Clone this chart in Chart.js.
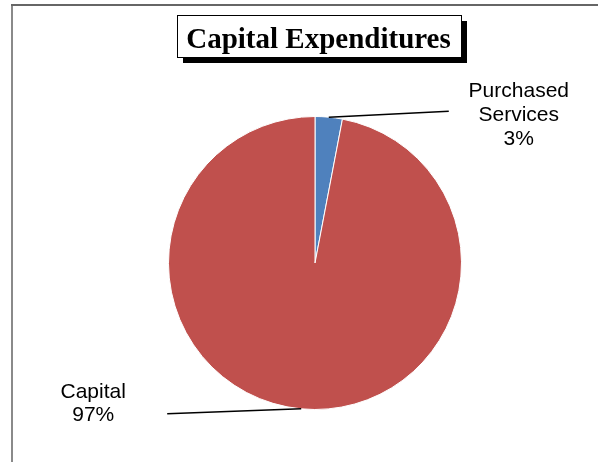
<!DOCTYPE html>
<html>
<head>
<meta charset="utf-8">
<script src="https://cdn.jsdelivr.net/npm/chart.js@4"></script>
<style>
  html, body { margin: 0; padding: 0; background: #fff; }
  #wrap { width: 598px; height: 462px; position: relative; }
</style>
</head>
<body>
<div id="wrap"><canvas id="c" width="598" height="462"></canvas></div>
<script>
// Capital expenditures by category (percent of total)
const chartTitle = 'Capital Expenditures';
const categories = [['Purchased', 'Services'], ['Capital']];
const shares = [3, 97];
const sliceColors = ['#4F81BD', '#C0504D'];

// Frame, boxed title with drop shadow
const framePlugin = {
  id: 'frame',
  beforeDraw(chart) {
    const ctx = chart.ctx;
    ctx.save();
    ctx.fillStyle = '#fff';
    ctx.fillRect(0, 0, chart.width, chart.height);
    ctx.lineWidth = 2;
    ctx.strokeStyle = '#8a8a8a';
    ctx.beginPath();
    ctx.moveTo(12, chart.height);
    ctx.lineTo(12, 5);
    ctx.stroke();
    ctx.strokeStyle = '#666';
    ctx.beginPath();
    ctx.moveTo(11, 5);
    ctx.lineTo(chart.width, 5);
    ctx.stroke();

    // title box
    const bx = 177, by = 15, bw = 284, bh = 42;
    ctx.fillStyle = '#000';
    ctx.fillRect(bx + 6, by + 6, bw, bh);
    ctx.fillStyle = '#fff';
    ctx.fillRect(bx, by, bw, bh);
    ctx.strokeStyle = '#000';
    ctx.lineWidth = 1;
    ctx.strokeRect(bx + 0.5, by + 0.5, bw, bh);
    ctx.fillStyle = '#000';
    ctx.font = 'bold 29px "Liberation Serif", "Times New Roman", serif';
    ctx.textAlign = 'center';
    ctx.textBaseline = 'alphabetic';
    ctx.fillText(chartTitle, bx + bw / 2 - 0.5, 48);
    ctx.restore();
  }
};

// Leader lines and category/percent labels outside each slice
const labelPlugin = {
  id: 'sliceLabels',
  afterDatasetsDraw(chart) {
    const ctx = chart.ctx;
    const meta = chart.getDatasetMeta(0);
    const total = shares.reduce((a, b) => a + b, 0);
    ctx.save();
    ctx.font = '21px "Liberation Sans", Arial, sans-serif';
    ctx.fillStyle = '#000';
    ctx.textAlign = 'center';
    ctx.textBaseline = 'alphabetic';
    meta.data.forEach((arc, i) => {
      const mid = (arc.startAngle + arc.endAngle) / 2;
      const sx = arc.x + Math.cos(mid) * arc.outerRadius;
      const sy = arc.y + Math.sin(mid) * arc.outerRadius;
      const right = Math.cos(mid) >= 0;
      const ex = right ? sx + 120 : sx - 134;
      const ey = right ? sy - 6 : sy + 5;
      ctx.strokeStyle = '#000';
      ctx.lineWidth = 1.5;
      ctx.beginPath();
      ctx.moveTo(sx, sy);
      ctx.lineTo(ex, ey);
      ctx.stroke();
      const pct = Math.round(shares[i] / total * 100) + '%';
      const lines = [].concat(categories[i], [pct]);
      const cx = right ? ex + 70 : ex - 74;
      const firstBase = right ? ey - 14 : ey - 16;
      const step = right ? 24 : 23;
      lines.forEach((t, k) => ctx.fillText(t, cx, firstBase + k * step));
    });
    ctx.restore();
  }
};

new Chart(document.getElementById('c'), {
  type: 'pie',
  data: {
    labels: categories.map(c => [].concat(c).join(' ')),
    datasets: [{
      data: shares,
      backgroundColor: sliceColors,
      borderColor: '#ffffff',
      borderWidth: 1
    }]
  },
  options: {
    responsive: false,
    animation: false,
    layout: { padding: { left: 168, right: 136, top: 116, bottom: 52 } },
    plugins: {
      legend: { display: false },
      tooltip: { enabled: false },
      title: { display: false }
    }
  },
  plugins: [framePlugin, labelPlugin]
});
</script>
</body>
</html>
